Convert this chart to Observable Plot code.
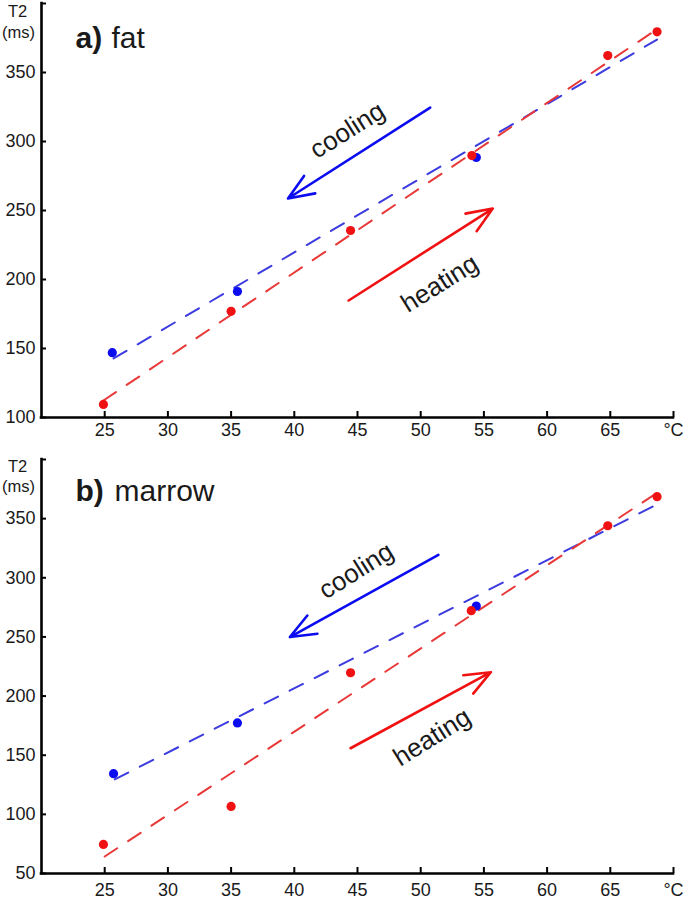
<!DOCTYPE html>
<html><head><meta charset="utf-8">
<script src="https://cdn.jsdelivr.net/npm/d3@7"></script>
<script src="https://cdn.jsdelivr.net/npm/@observablehq/plot@0.6"></script>
<style>body{margin:0;background:#fff;} svg{display:block;}</style>
</head><body><div id="a"></div><div id="b"></div>
<script>
// shared x axis
const xTicks = [25,30,35,40,45,50,55,60,65,70];
const xTickLabels = ["25","30","35","40","45","50","55","60","65","°C"];
const xDomain = [20, 70];

// panel a) fat
const fatDomain = [100, 400];
const fatYTicks = [100,150,200,250,300,350,400];
const fatYLabels = ["100","150","200","250","300","350",""];
const fatHeatT = [24.9, 35.0, 44.45, 54.05, 64.8, 68.7];
const fatHeatT2 = [109.5, 177, 235.5, 289.8, 362.3, 379.5];
const fatCoolT = [25.6, 35.5, 54.4];
const fatCoolT2 = [147, 191.3, 288.4];
const fatHeatFitT = [24.9, 68.8];
const fatHeatFitT2 = [112.3, 382];
const fatCoolFitT = [25.7, 68.7];
const fatCoolFitT2 = [142.8, 373.9];
const fatArrowKind = ["cooling", "heating"];
const fatArrowT1 = [50.75, 44.3];
const fatArrowV1 = [324.6, 184.8];
const fatArrowT2 = [39.5, 55.7];
const fatArrowV2 = [258.7, 251.4];
const fatLabelT = [44.2, 51.5];
const fatLabelV = [308, 197];

// panel b) marrow
const marDomain = [50, 400];
const marYTicks = [50,100,150,200,250,300,350,400];
const marYLabels = ["50","100","150","200","250","300","350",""];
const marHeatT = [24.9, 35.0, 44.45, 54.0, 64.8, 68.7];
const marHeatT2 = [74.6, 106.7, 219.7, 272.2, 344, 368.6];
const marCoolT = [25.7, 35.5, 54.4];
const marCoolT2 = [134.4, 177.3, 276.1];
const marHeatFitT = [25.0, 68.8];
const marHeatFitT2 = [64.4, 372.5];
const marCoolFitT = [25.8, 68.8];
const marCoolFitT2 = [129.6, 362.6];
const marArrowKind = ["cooling", "heating"];
const marArrowT1 = [51.4, 44.45];
const marArrowV1 = [319.4, 155.9];
const marArrowT2 = [39.65, 55.55];
const marArrowV2 = [249.9, 220.2];
const marLabelT = [44.9, 50.9];
const marLabelV = [305.8, 165.2];

const BLUE = "#0c0cf0", RED = "#f01212", BLUE_D = "#3b3be0", RED_D = "#e83838";
const INK = "#1a1a1a";
const FONT = "'Liberation Sans', Arial, Helvetica, sans-serif";

function panel(cfg) {
  const W = 685, mL = 41, mR = 12;
  const innerW = W - mL - mR;
  const innerH = cfg.height - cfg.mT - cfg.mB;
  const xLab = new Map(xTicks.map((d, i) => [d, xTickLabels[i]]));
  const yLab = new Map(cfg.yTicks.map((d, i) => [d, cfg.yLabels[i]]));
  const idx = cfg.arrowKind.map((d, i) => i);
  const ci = idx.filter(i => cfg.arrowKind[i] === "cooling");
  const hi = idx.filter(i => cfg.arrowKind[i] === "heating");
  return Plot.plot({
    width: W, height: cfg.height,
    marginTop: cfg.mT, marginBottom: cfg.mB, marginLeft: mL, marginRight: mR,
    style: {fontFamily: FONT, background: "white", overflow: "visible"},
    x: {domain: xDomain},
    y: {domain: cfg.domain},
    marks: [
      // axis lines
      Plot.ruleX([xDomain[0]], {x: d => d, stroke: "black", strokeWidth: 2.6, strokeLinecap: "square"}),
      Plot.ruleY([cfg.domain[0]], {y: d => d, stroke: "black", strokeWidth: 2.6, strokeLinecap: "square"}),
      // inward ticks
      Plot.ruleX(xTicks, {x: d => d, insetTop: innerH - 6, stroke: "black", strokeWidth: 2}),
      Plot.ruleY(cfg.yTicks, {y: d => d, insetRight: innerW - 5, stroke: "black", strokeWidth: 2}),
      // tick labels
      Plot.axisX(xTicks, {tickSize: 0, tickPadding: cfg.xPad, tickFormat: d => xLab.get(d), fontSize: 18, fill: INK, label: null}),
      Plot.axisY(cfg.yTicks, {tickSize: 0, tickPadding: 6, tickFormat: d => yLab.get(d), fontSize: 18, fill: INK, label: null}),
      // unit label
      Plot.text(["T2"], {frameAnchor: "top-left", dx: -24, dy: cfg.t2dy, text: d => d, fontSize: 16.5, fill: INK, textAnchor: "middle", lineAnchor: "middle"}),
      Plot.text(["(ms)"], {frameAnchor: "top-left", dx: -23, dy: cfg.msdy, text: d => d, fontSize: 16.5, fill: INK, textAnchor: "middle", lineAnchor: "middle"}),
      // panel title
      Plot.text([cfg.tag], {frameAnchor: "top-left", dx: 34, dy: cfg.titledy, text: d => d, fontSize: 30, fontWeight: "bold", fill: INK, textAnchor: "start", lineAnchor: "middle"}),
      Plot.text([cfg.name], {frameAnchor: "top-left", dx: cfg.namedx, dy: cfg.titledy, text: d => d, fontSize: 30, fill: INK, textAnchor: "start", lineAnchor: "middle"}),
      // fitted dashed lines
      Plot.line(cfg.coolFitT, {x: cfg.coolFitT, y: cfg.coolFitV, stroke: BLUE_D, strokeWidth: 2, strokeDasharray: "15,13"}),
      Plot.line(cfg.heatFitT, {x: cfg.heatFitT, y: cfg.heatFitV, stroke: RED_D, strokeWidth: 2, strokeDasharray: "15,13"}),
      // measured points
      Plot.dot(cfg.coolT, {x: cfg.coolT, y: cfg.coolV, r: 4.6, fill: BLUE, stroke: "none"}),
      Plot.dot(cfg.heatT, {x: cfg.heatT, y: cfg.heatV, r: 4.6, fill: RED, stroke: "none"}),
      // arrows
      Plot.arrow(ci, {x1: i => cfg.aT1[i], y1: i => cfg.aV1[i], x2: i => cfg.aT2[i], y2: i => cfg.aV2[i], stroke: BLUE, strokeWidth: 2.6, headLength: 16, headAngle: 44}),
      Plot.arrow(hi, {x1: i => cfg.aT1[i], y1: i => cfg.aV1[i], x2: i => cfg.aT2[i], y2: i => cfg.aV2[i], stroke: RED, strokeWidth: 2.6, headLength: 16, headAngle: 44}),
      // direction labels
      Plot.text(idx, {x: i => cfg.lT[i], y: i => cfg.lV[i], text: i => cfg.arrowKind[i], rotate: -32, fontSize: 26, fill: INK, textAnchor: "middle", lineAnchor: "middle"})
    ]
  });
}

document.getElementById("a").append(panel({
  height: 445, mT: 3, mB: 28, xPad: 6, domain: fatDomain,
  yTicks: fatYTicks, yLabels: fatYLabels,
  t2dy: 8.2, msdy: 29.5, titledy: 34.4, tag: "a)", name: "fat", namedx: 70,
  heatT: fatHeatT, heatV: fatHeatT2, coolT: fatCoolT, coolV: fatCoolT2,
  heatFitT: fatHeatFitT, heatFitV: fatHeatFitT2, coolFitT: fatCoolFitT, coolFitV: fatCoolFitT2,
  arrowKind: fatArrowKind, aT1: fatArrowT1, aV1: fatArrowV1, aT2: fatArrowT2, aV2: fatArrowV2,
  lT: fatLabelT, lV: fatLabelV
}));

document.getElementById("b").append(panel({
  height: 460, mT: 14, mB: 32, xPad: 10, domain: marDomain,
  yTicks: marYTicks, yLabels: marYLabels,
  t2dy: 7.3, msdy: 27.5, titledy: 31.4, tag: "b)", name: "marrow", namedx: 73,
  heatT: marHeatT, heatV: marHeatT2, coolT: marCoolT, coolV: marCoolT2,
  heatFitT: marHeatFitT, heatFitV: marHeatFitT2, coolFitT: marCoolFitT, coolFitV: marCoolFitT2,
  arrowKind: marArrowKind, aT1: marArrowT1, aV1: marArrowV1, aT2: marArrowT2, aV2: marArrowV2,
  lT: marLabelT, lV: marLabelV
}));
</script>
</body></html>
